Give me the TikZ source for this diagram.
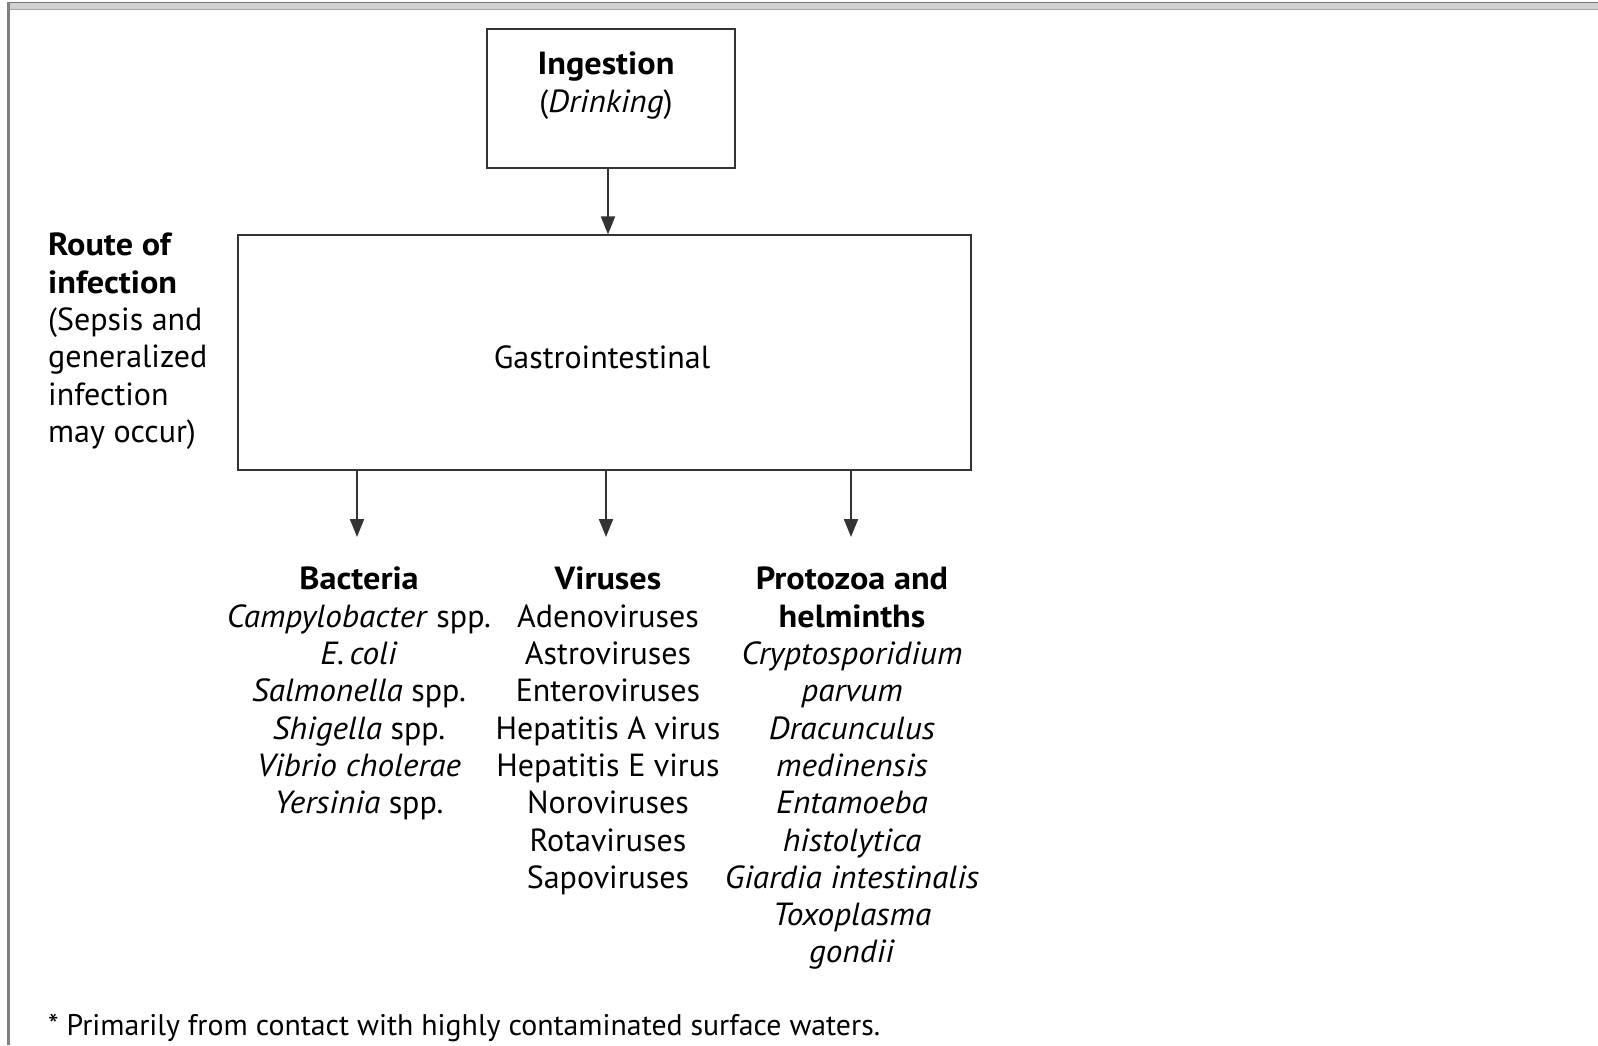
\documentclass[tikz,border=0pt]{standalone}
\usepackage{fontspec}
\setmainfont[BoldFeatures={FakeStretch=1.07},ItalicFeatures={FakeStretch=1.04}]{PT Sans}
\usetikzlibrary{arrows.meta}
\begin{document}
\begin{tikzpicture}[x=1pt,y=-1pt,
  box/.style={draw=black!80, line width=2pt, inner sep=0pt},
  arr/.style={-{Triangle[width=14pt,length=18pt]}, line width=2pt, draw=black!80},
  txt/.style={font=\fontsize{32}{37.3}\selectfont, inner sep=0pt, align=center},
  ltxt/.style={font=\fontsize{32}{37.3}\selectfont, inner sep=0pt, align=left}]
\useasboundingbox (0,0) rectangle (1598,1045);
% page frame
\fill[black!18] (7,2) rectangle (1598,9.5);
\draw[black!55, line width=1.5pt] (7,2.5) -- (1598,2.5);
\draw[black!35, line width=1pt] (7,9) -- (1598,9);
\draw[black!50, line width=3pt] (8.5,2) -- (8.5,1045);
% boxes
\node[box, minimum width=248pt, minimum height=139pt, anchor=north west] (ing) at (486,28) {};
\node[txt, anchor=north] (ingt) at (606,52) {\textbf{Ingestion}\\(\textit{Drinking})};
\node[box, minimum width=733.5pt, minimum height=235pt, anchor=north west] (gi) at (236.5,234.4) {};
\node[txt] (git) at (602,357) {Gastrointestinal};
\draw[arr] ([xshift=-3pt]ing.south) -- ([xshift=-3pt]ing.south |- gi.north);
% arrows to groups
\coordinate (tb) at (357,537);
\coordinate (tv) at (606,537);
\coordinate (tp) at (851,537);
\draw[arr] (gi.south -| tb) -- (tb);
\draw[arr] (gi.south -| tv) -- (tv);
\draw[arr] (gi.south -| tp) -- (tp);
% left label
\node[ltxt, anchor=north west] (route) at (48,233) {\textbf{Route of}\\\textbf{infection}\\(Sepsis and\\generalized\\infection\\may occur)};
% columns
\node[txt, anchor=north] (bac) at (359,567) {\textbf{Bacteria}\\\textit{Campylobacter} spp.\\\textit{E.\,coli}\\\textit{Salmonella} spp.\\\textit{Shigella} spp.\\\textit{Vibrio cholerae}\\\textit{Yersinia} spp.};
\node[txt, anchor=north] (vir) at (608,567) {\textbf{Viruses}\\Adenoviruses\\Astroviruses\\Enteroviruses\\Hepatitis A virus\\Hepatitis E virus\\Noroviruses\\Rotaviruses\\Sapoviruses};
\node[txt, anchor=north] (pro) at (852,567) {\textbf{Protozoa and}\\\textbf{helminths}\\\textit{Cryptosporidium}\\\textit{parvum}\\\textit{Dracunculus}\\\textit{medinensis}\\\textit{Entamoeba}\\\textit{histolytica}\\\textit{Giardia intestinalis}\\\textit{Toxoplasma}\\\textit{gondii}};
% footnote
\node[anchor=base west, inner sep=0pt, font=\fontsize{29.8}{36}\selectfont] (foot) at (48,1035) {* Primarily from contact with highly contaminated surface waters.};
\end{tikzpicture}
\end{document}
